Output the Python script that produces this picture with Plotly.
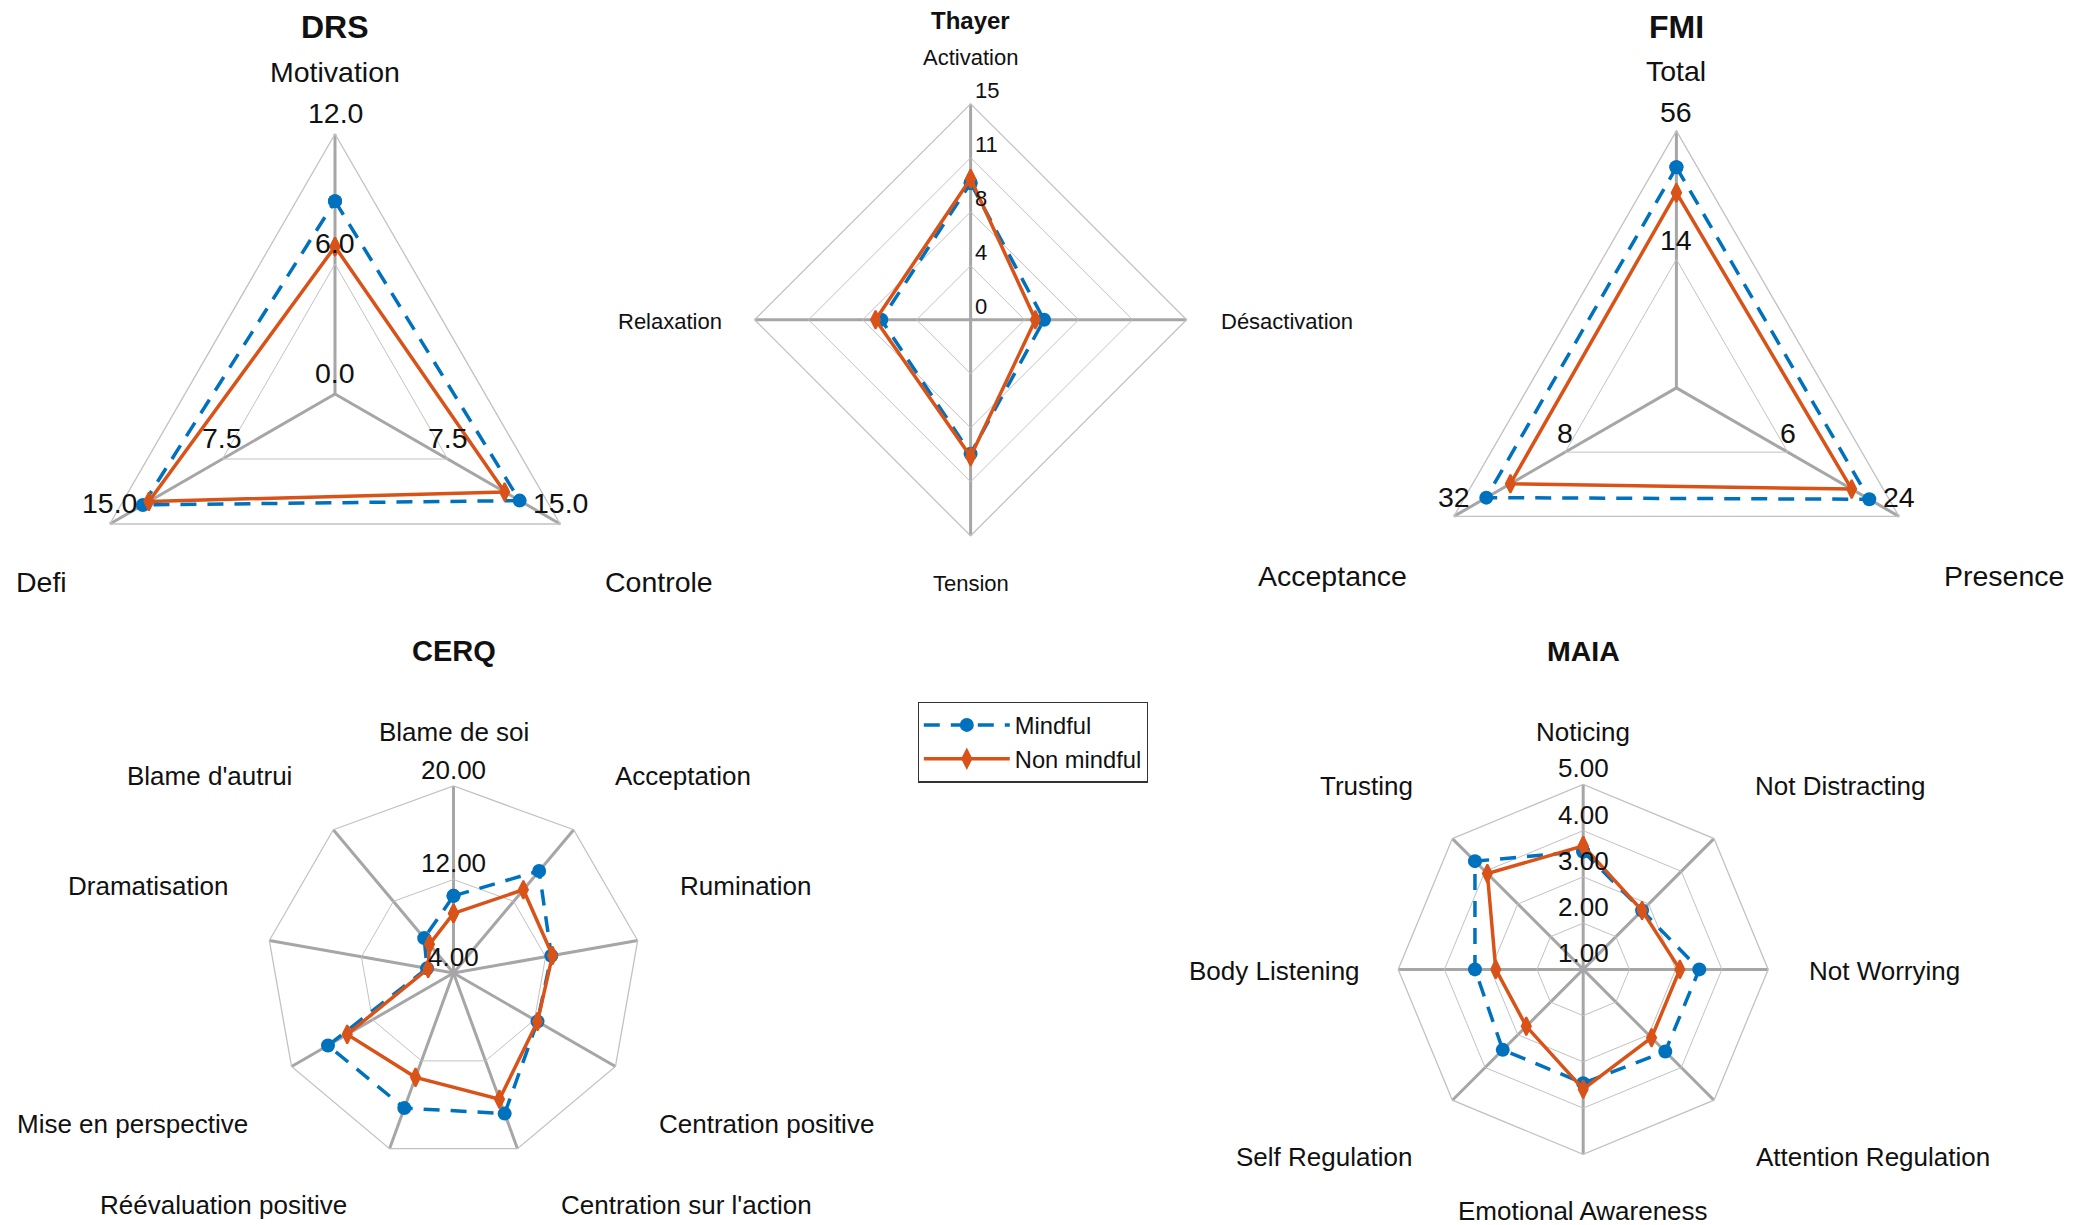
import math
import plotly.graph_objects as go

W, H = 2092, 1225
FONT = "Liberation Sans, Arial, Helvetica, sans-serif"
BLUE = "#0072BD"
ORANGE = "#D95319"
TXT = "#111111"

# ---------------- data ----------------
series_names = ["Mindful", "Non mindful"]

drs_axes = ["Motivation", "Controle", "Defi"]
drs_lo = [0, 0, 0]
drs_hi = [12, 15, 15]
drs_mindful = [8.9, 12.3, 12.8]
drs_nonmindful = [6.8, 11.3, 12.4]

thayer_axes = ["Activation", "Désactivation", "Tension", "Relaxation"]
thayer_lo = [0, 0, 0, 0]
thayer_hi = [15, 15, 15, 15]
thayer_mindful = [9.5, 5.1, 9.3, 6.2]
thayer_nonmindful = [9.8, 4.5, 9.5, 6.6]

fmi_axes = ["Total", "Presence", "Acceptance"]
fmi_lo = [14, 6, 8]
fmi_hi = [56, 24, 32]
fmi_mindful = [44.1, 19.2, 25.0]
fmi_nonmindful = [35.8, 16.35, 19.8]

cerq_axes = ["Blame de soi", "Acceptation", "Rumination", "Centration positive",
             "Centration sur l'action", "Réévaluation positive", "Mise en perspective",
             "Dramatisation", "Blame d'autrui"]
cerq_lo = [4] * 9
cerq_hi = [20] * 9
cerq_mindful = [10.6, 15.4, 12.5, 12.3, 16.8, 16.3, 16.4, 6.3, 7.9]
cerq_nonmindful = [9.1, 13.3, 12.6, 12.3, 15.5, 13.5, 14.5, 6.2, 7.2]

maia_axes = ["Noticing", "Not Distracting", "Not Worrying", "Attention Regulation",
             "Emotional Awareness", "Self Regulation", "Body Listening", "Trusting"]
maia_lo = [1] * 8
maia_hi = [5] * 8
maia_mindful = [3.55, 2.8, 3.51, 3.51, 3.46, 3.46, 3.34, 4.31]
maia_nonmindful = [3.67, 2.8, 3.09, 3.09, 3.59, 2.74, 2.89, 3.93]

# ---------------- chart layout specs (pixel geometry) ----------------
charts = [
    dict(name="DRS", axes=drs_axes, lo=drs_lo, hi=drs_hi,
         vals=[drs_mindful, drs_nonmindful],
         cx=335, cy=394, R=260, rings=[0.5, 1.0], r_lo=0.0,
         tick_levels=[0, 0.5, 1.0], tick_axes="all_center_once", fmt="{:.1f}",
         tick_font=28.5, tick_yshift=21, tick_xanchor="center",
         title_pos=(335, 26.5), title_size=32,
         label_size=28.5,
         label_pos=[(335, 72), (658.9, 581.7), (41.3, 581.7)]),
    dict(name="Thayer", axes=thayer_axes, lo=thayer_lo, hi=thayer_hi,
         vals=[thayer_mindful, thayer_nonmindful],
         cx=970.6, cy=319.8, R=216, rings=[0.25, 0.5, 0.75, 1.0], r_lo=0.0,
         tick_levels=[0, 0.25, 0.5, 0.75, 1.0], tick_axes="first", fmt="{:.0f}",
         tick_font=22, tick_yshift=13, tick_xanchor="left",
         title_pos=(970.6, 20.2), title_size=24,
         label_size=22,
         label_pos=[(970.6, 57.6), (1286.6, 321), (970.6, 583.7), (669.7, 321)]),
    dict(name="FMI", axes=fmi_axes, lo=fmi_lo, hi=fmi_hi,
         vals=[fmi_mindful, fmi_nonmindful],
         cx=1676.4, cy=387.9, R=257, rings=[0.5, 1.0], r_lo=0.5,
         tick_levels=[0.5, 1.0], tick_axes="all", fmt="{:.0f}",
         tick_font=28.5, tick_yshift=19, tick_xanchor="center",
         title_pos=(1676.4, 26.5), title_size=32,
         label_size=28.5,
         label_pos=[(1676.4, 71.2), (2003.6, 575.9), (1332.4, 575.9)]),
    dict(name="CERQ", axes=cerq_axes, lo=cerq_lo, hi=cerq_hi,
         vals=[cerq_mindful, cerq_nonmindful],
         cx=453.5, cy=973, R=187, rings=[0.5, 1.0], r_lo=0.0,
         tick_levels=[0, 0.5, 1.0], tick_axes="first", fmt="{:.2f}",
         tick_font=26, tick_yshift=16, tick_xanchor="center",
         title_pos=(453.5, 650.9), title_size=29,
         label_size=26,
         label_pos=[(453.5, 732), (683.1, 776.4), (746.3, 886.4), (766.4, 1123.9),
                    (686, 1205), (223.9, 1205), (132, 1123.9), (148.1, 886.4),
                    (209.5, 776.4)]),
    dict(name="MAIA", axes=maia_axes, lo=maia_lo, hi=maia_hi,
         vals=[maia_mindful, maia_nonmindful],
         cx=1583.2, cy=969.4, R=185, rings=[0.25, 0.5, 0.75, 1.0], r_lo=0.0,
         tick_levels=[0, 0.25, 0.5, 0.75, 1.0], tick_axes="first", fmt="{:.2f}",
         tick_font=26, tick_yshift=16, tick_xanchor="center",
         title_pos=(1583.2, 650.9), title_size=28.5,
         label_size=26,
         label_pos=[(1583.2, 732), (1840.6, 786), (1884.6, 970.6), (1873, 1156.7),
                    (1583.2, 1210.7), (1324.4, 1156.7), (1274.1, 970.6), (1366.9, 786)]),
]


def px2paper(x, y):
    return x / W, 1 - y / H


fig = go.Figure()
annotations = []
layout_polars = {}

styles = [
    dict(line=dict(color=BLUE, width=3.5, dash="16px,11px"),
         marker=dict(symbol="circle", size=14, color=BLUE)),
    dict(line=dict(color=ORANGE, width=3.5),
         marker=dict(symbol="diamond-tall", size=13, color=ORANGE,
                     line=dict(color=ORANGE, width=2))),
]

for k, ch in enumerate(charts):
    pname = "polar" if k == 0 else f"polar{k + 1}"
    n = len(ch["axes"])
    for s, vals in enumerate(ch["vals"]):
        r = [ch["r_lo"] + (1 - ch["r_lo"]) * (v - lo) / (hi - lo)
             for v, lo, hi in zip(vals, ch["lo"], ch["hi"])]
        fig.add_trace(go.Scatterpolar(
            r=r + r[:1], theta=ch["axes"] + ch["axes"][:1],
            mode="lines+markers", name=series_names[s],
            showlegend=(k == 0),
            subplot=pname, cliponaxis=False,
            **styles[s]))
    cx, cy, R = ch["cx"], ch["cy"], ch["R"]
    x0, y1 = px2paper(cx - R, cy - R)
    x1, y0 = px2paper(cx + R, cy + R)
    layout_polars[pname] = dict(
        domain=dict(x=[x0, x1], y=[y0, y1]),
        gridshape="linear",
        bgcolor="rgba(0,0,0,0)",
        radialaxis=dict(range=[0, 1], tickvals=ch["rings"], showticklabels=False,
                        ticks="", showline=False, gridcolor="#c2c2c2", gridwidth=1.3),
        angularaxis=dict(type="category", categoryarray=ch["axes"], direction="clockwise",
                         rotation=90, showticklabels=False, ticks="",
                         showgrid=True, gridcolor="#a6a6a6", gridwidth=3.2,
                         showline=True, linecolor="#c2c2c2", linewidth=1.3),
    )
    # title
    tx, ty = px2paper(*ch["title_pos"])
    annotations.append(dict(x=tx, y=ty, xref="paper", yref="paper", text=f"<b>{ch['name']}</b>",
                            showarrow=False, xanchor="center", yanchor="middle",
                            font=dict(family=FONT, size=ch["title_size"], color=TXT)))
    # axis labels
    for i, lab in enumerate(ch["axes"]):
        lx, ly = px2paper(*ch["label_pos"][i])
        annotations.append(dict(x=lx, y=ly, xref="paper", yref="paper", text=lab,
                                showarrow=False, xanchor="center", yanchor="middle",
                                font=dict(family=FONT, size=ch["label_size"], color=TXT)))
    # tick labels
    for i in range(n):
        if ch["tick_axes"] == "first" and i > 0:
            continue
        th = math.radians(360.0 * i / n)
        for lev in ch["tick_levels"]:
            if ch["tick_axes"] == "all_center_once" and i > 0 and lev == 0:
                continue
            if lev < ch["r_lo"]:
                continue
            frac = (lev - ch["r_lo"]) / (1 - ch["r_lo"])
            val = ch["lo"][i] + frac * (ch["hi"][i] - ch["lo"][i])
            px = cx + lev * R * math.sin(th)
            py = cy - lev * R * math.cos(th)
            ax, ay = px2paper(px, py)
            annotations.append(dict(x=ax, y=ay, xref="paper", yref="paper",
                                    text=ch["fmt"].format(val), showarrow=False,
                                    xanchor=ch["tick_xanchor"], yanchor="middle",
                                    xshift=2 if ch["tick_xanchor"] == "left" else 0,
                                    yshift=ch["tick_yshift"],
                                    font=dict(family=FONT, size=ch["tick_font"], color=TXT)))

lx, ly = px2paper(917.5, 701.7)
fig.update_layout(
    width=W, height=H,
    margin=dict(l=0, r=0, t=0, b=0),
    paper_bgcolor="white", plot_bgcolor="white",
    font=dict(family=FONT, color=TXT),
    annotations=annotations,
    showlegend=True,
    legend=dict(x=lx, y=ly, xanchor="left", yanchor="top",
                bordercolor="#333333", borderwidth=1.3, bgcolor="white",
                font=dict(family=FONT, size=23.7, color=TXT),
                itemwidth=86, tracegroupgap=0),
    **layout_polars,
)

fig.write_html("out.html", config={"displayModeBar": False},
               post_script="document.body.style.margin='0';")
